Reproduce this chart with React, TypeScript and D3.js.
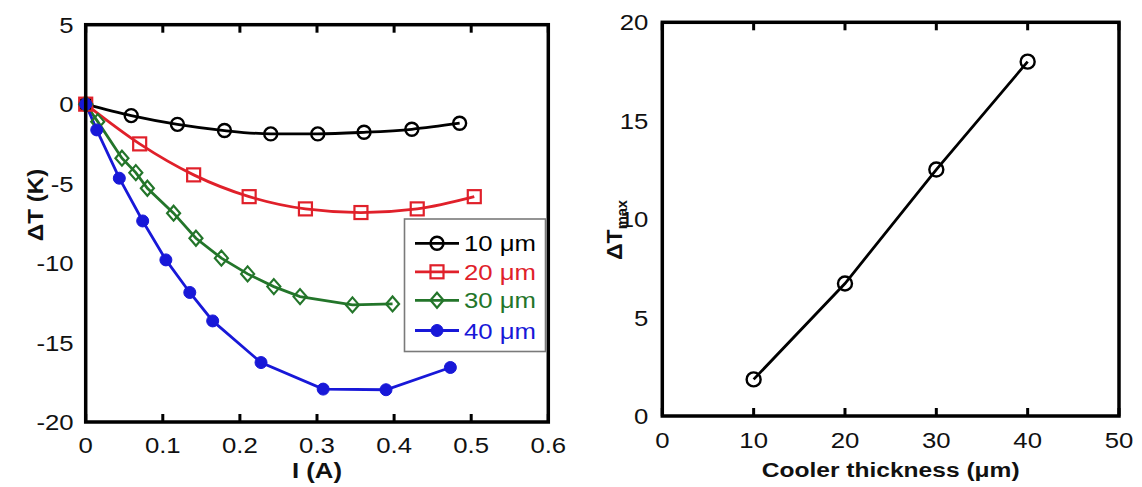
import React from "react";
import * as d3 from "d3";

const s10I = [0, 0.059, 0.119, 0.18, 0.24, 0.301, 0.361, 0.423, 0.485];
const s10T = [0, -0.72, -1.27, -1.66, -1.87, -1.87, -1.77, -1.58, -1.2];
const s20I = [0, 0.07, 0.14, 0.212, 0.285, 0.357, 0.43, 0.504];
const s20T = [0, -2.5, -4.45, -5.82, -6.59, -6.82, -6.59, -5.82];
const s30I = [0, 0.0156, 0.047, 0.065, 0.08, 0.114, 0.143, 0.176, 0.21, 0.244, 0.278, 0.346, 0.398];
const s30T = [0, -1.1, -3.4, -4.31, -5.29, -6.86, -8.44, -9.69, -10.68, -11.48, -12.11, -12.63, -12.57];
const s40I = [0, 0.0143, 0.0436, 0.0739, 0.104, 0.135, 0.1647, 0.2274, 0.308, 0.3895, 0.473];
const s40T = [0, -1.62, -4.66, -7.35, -9.8, -11.85, -13.64, -16.26, -17.93, -17.97, -16.57];

const seriesNames = ["10 \u03bcm", "20 \u03bcm", "30 \u03bcm", "40 \u03bcm"];
const seriesColors = ["#000000", "#e0202a", "#23752a", "#1818d8"];
const seriesMarkers = ["circle", "square", "diamond", "dot"];

const leftXTicks = [0, 0.1, 0.2, 0.3, 0.4, 0.5, 0.6];
const leftYTicks = [5, 0, -5, -10, -15, -20];

const thickness = [10, 20, 30, 40];
const dTmax = [1.86, 6.73, 12.52, 18.0];
const rightXTicks = [0, 10, 20, 30, 40, 50];
const rightYTicks = [0, 5, 10, 15, 20];

const FONT = "'Liberation Sans', Arial, sans-serif";
const SX = 1.17;

function T({
  x,
  y,
  anchor = "start",
  size = 22,
  bold = false,
  fill = "#111",
  rotate = 0,
  sx = SX,
  children,
}: {
  x: number;
  y: number;
  anchor?: string;
  size?: number;
  bold?: boolean;
  fill?: string;
  rotate?: number;
  sx?: number;
  children: React.ReactNode;
}) {
  return (
    <text
      transform={`translate(${x},${y}) rotate(${rotate}) scale(${sx},1)`}
      textAnchor={anchor}
      fontSize={size}
      fontWeight={bold ? "bold" : "normal"}
      fill={fill}
    >
      {children}
    </text>
  );
}

function Marker({ type, x, y, color }: { type: string; x: number; y: number; color: string }) {
  if (type === "circle")
    return <circle cx={x} cy={y} r={6.5} fill="none" stroke={color} strokeWidth={2.4} />;
  if (type === "square")
    return <rect x={x - 6.5} y={y - 6.5} width={13} height={13} fill="none" stroke={color} strokeWidth={2.2} />;
  if (type === "diamond")
    return (
      <path
        d={`M${x},${y - 7.5}L${x + 6.5},${y}L${x},${y + 7.5}L${x - 6.5},${y}Z`}
        fill="none"
        stroke={color}
        strokeWidth={2.2}
      />
    );
  return <circle cx={x} cy={y} r={6} fill={color} stroke={color} strokeWidth={1} />;
}

export default function App() {
  const L = { left: 85.7, right: 548.3, top: 24.7, bottom: 422 };
  const lx = d3.scaleLinear().domain([0, 0.6]).range([L.left, L.right]);
  const ly = d3.scaleLinear().domain([-20, 5]).range([L.bottom, L.top]);
  const seriesI = [s10I, s20I, s30I, s40I];
  const seriesT = [s10T, s20T, s30T, s40T];
  const curves = [d3.curveMonotoneX, d3.curveMonotoneX, d3.curveLinear, d3.curveLinear];

  const R = { left: 662.3, right: 1119, top: 22.3, bottom: 416 };
  const rx = d3.scaleLinear().domain([0, 50]).range([R.left, R.right]);
  const ry = d3.scaleLinear().domain([0, 20]).range([R.bottom, R.top]);
  const rLine = d3
    .line<number>()
    .x((_, i) => rx(thickness[i]))
    .y((d) => ry(d));

  const legend = { x: 404.5, y: 219, w: 141, h: 132.5 };
  const rowY = [243.3, 271.8, 300.3, 330.5];

  return (
    <svg
      width={1142}
      height={487}
      style={{ position: "absolute", left: 0, top: 0, background: "#fff" }}
      fontFamily={FONT}
    >
      {/* LEFT PANEL */}
      {seriesI.map((xs, si) => {
        const line = d3
          .line<number>()
          .x((d) => lx(d))
          .y((_, i) => ly(seriesT[si][i]))
          .curve(curves[si]);
        return <path key={si} d={line(xs) || ""} fill="none" stroke={seriesColors[si]} strokeWidth={2.8} />;
      })}
      {seriesI.map((xs, si) => (
        <g key={"m" + si}>
          {xs.map((d, i) => (
            <Marker key={i} type={seriesMarkers[si]} x={lx(d)} y={ly(seriesT[si][i])} color={seriesColors[si]} />
          ))}
        </g>
      ))}
      {leftXTicks.map((t) => (
        <g key={"lt" + t}>
          <line x1={lx(t)} x2={lx(t)} y1={L.bottom} y2={L.bottom - 8} stroke="#000" strokeWidth={3} />
          <line x1={lx(t)} x2={lx(t)} y1={L.top} y2={L.top + 8} stroke="#000" strokeWidth={3} />
          <T x={lx(t)} y={L.bottom + 31} anchor="middle">
            {t === 0 ? "0" : t.toFixed(1)}
          </T>
        </g>
      ))}
      {leftYTicks.map((t) => (
        <T key={"ly" + t} x={L.left - 12} y={ly(t) + 8} anchor="end">
          {t}
        </T>
      ))}
      <rect
        x={L.left}
        y={L.top}
        width={L.right - L.left}
        height={L.bottom - L.top}
        fill="none"
        stroke="#000"
        strokeWidth={3.5}
      />
      <T x={lx(0.3)} y={478} anchor="middle" bold>
        I (A)
      </T>
      <T x={43} y={205} anchor="middle" bold rotate={-90} sx={1.1}>
        {"\u0394T (K)"}
      </T>

      {/* legend */}
      <rect x={legend.x} y={legend.y} width={legend.w} height={legend.h} fill="#fff" stroke="#7a7a7a" strokeWidth={1.6} />
      {seriesNames.map((n, i) => (
        <g key={"lg" + i}>
          <line x1={415} x2={459} y1={rowY[i]} y2={rowY[i]} stroke={seriesColors[i]} strokeWidth={2.8} />
          <Marker type={seriesMarkers[i]} x={437} y={rowY[i]} color={seriesColors[i]} />
          <T x={464} y={rowY[i] + 8} fill={seriesColors[i]}>
            {n}
          </T>
        </g>
      ))}

      {/* RIGHT PANEL */}
      <path d={rLine(dTmax) || ""} fill="none" stroke="#000" strokeWidth={2.8} />
      {dTmax.map((d, i) => (
        <circle key={"rc" + i} cx={rx(thickness[i])} cy={ry(d)} r={7} fill="none" stroke="#000" strokeWidth={2.4} />
      ))}
      {rightXTicks.map((t) => (
        <g key={"rt" + t}>
          <line x1={rx(t)} x2={rx(t)} y1={R.bottom} y2={R.bottom - 8} stroke="#000" strokeWidth={3} />
          <line x1={rx(t)} x2={rx(t)} y1={R.top} y2={R.top + 8} stroke="#000" strokeWidth={3} />
          <T x={rx(t)} y={R.bottom + 32} anchor="middle">
            {t}
          </T>
        </g>
      ))}
      {rightYTicks.map((t) => (
        <T key={"ry" + t} x={R.left - 14} y={ry(t) + 8} anchor="end">
          {t}
        </T>
      ))}
      <rect
        x={R.left}
        y={R.top}
        width={R.right - R.left}
        height={R.bottom - R.top}
        fill="none"
        stroke="#000"
        strokeWidth={3.5}
      />
      <T x={rx(25)} y={477} anchor="middle" size={21} bold>
        {"Cooler thickness (\u03bcm)"}
      </T>
      <T x={622} y={230} anchor="middle" bold rotate={-90} sx={1.05}>
        {"\u0394T"}
        <tspan fontSize={14} dy={5}>
          max
        </tspan>
      </T>
    </svg>
  );
}
